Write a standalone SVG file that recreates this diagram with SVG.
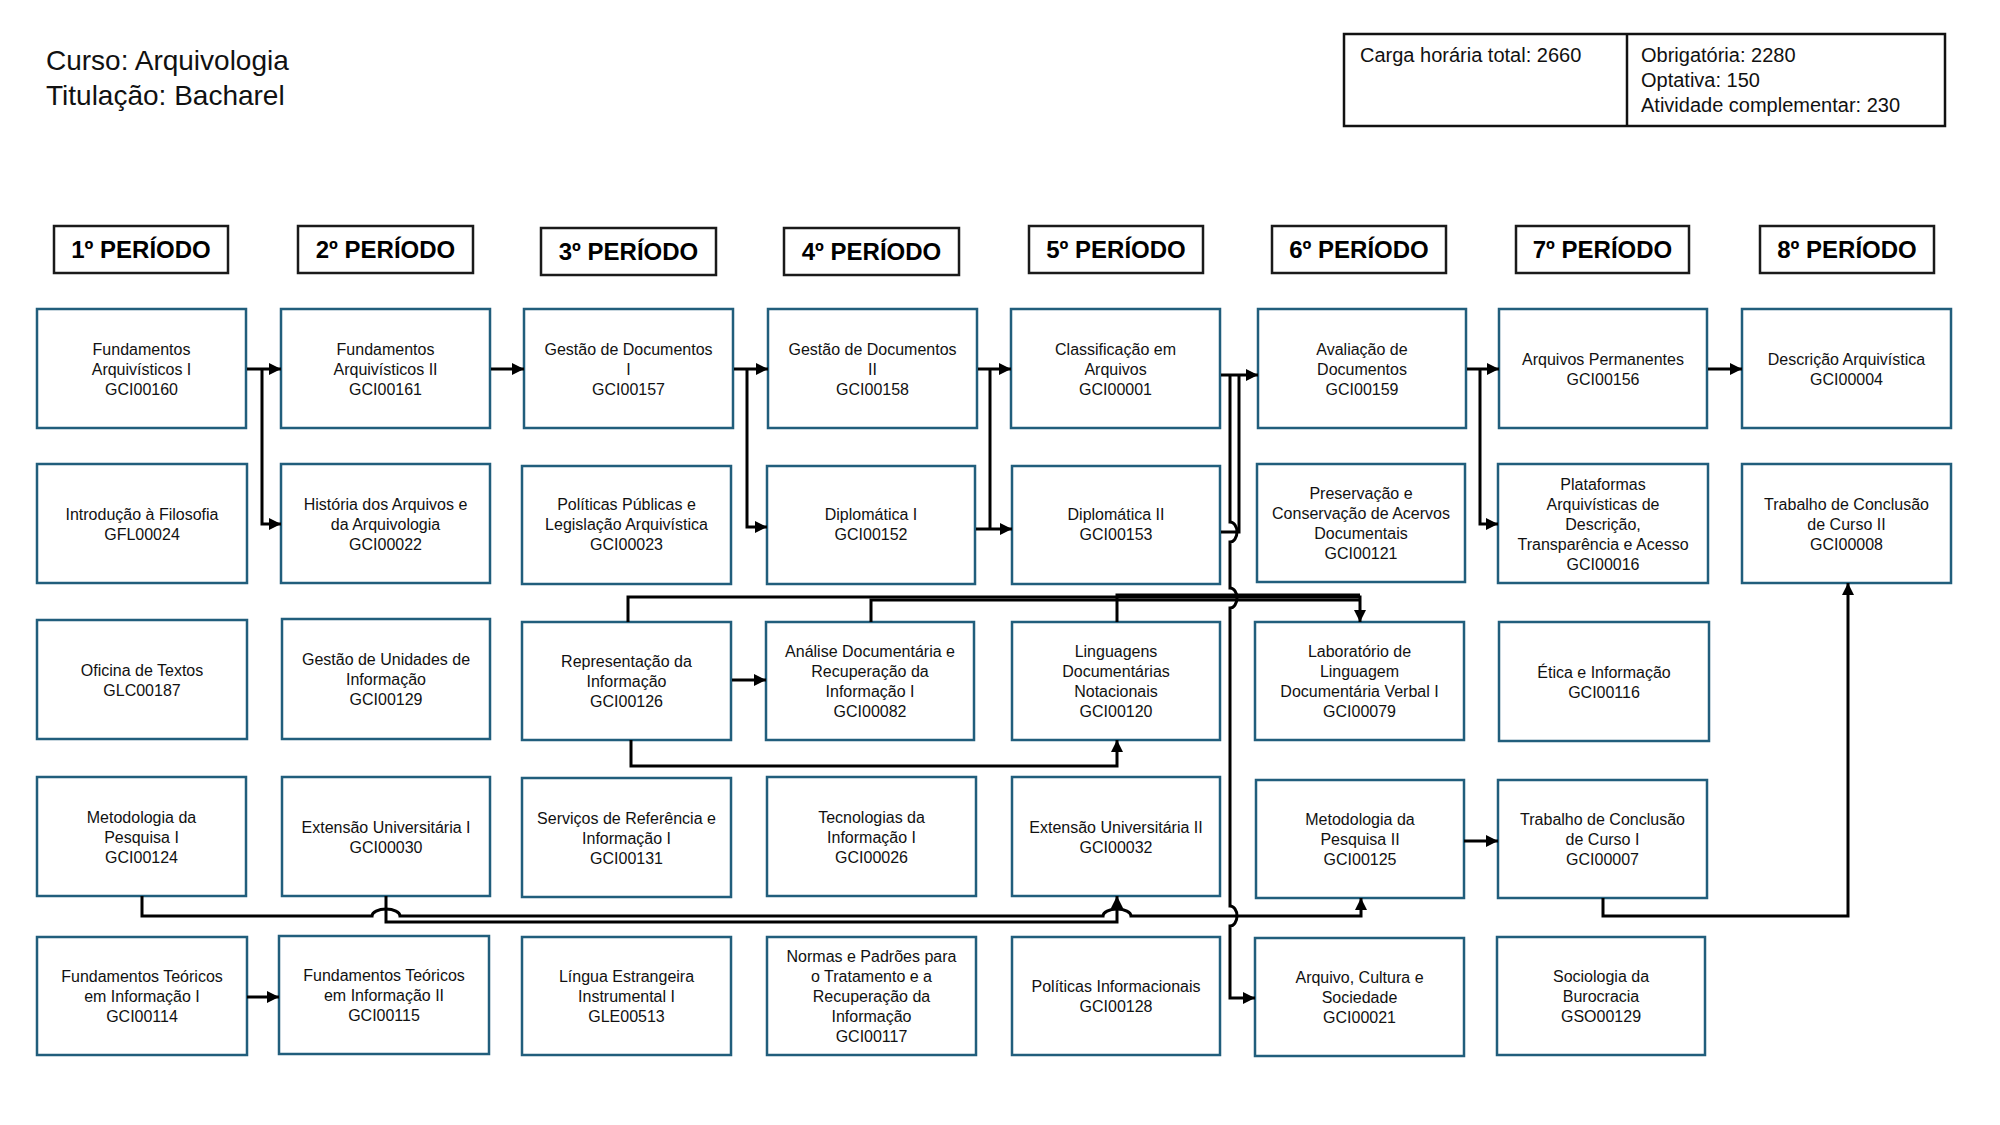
<svg xmlns="http://www.w3.org/2000/svg" width="2000" height="1125" viewBox="0 0 2000 1125">
<defs>
<style>
.n rect{fill:#fff;stroke:#215E7C;stroke-width:2.5}
.n text{font-family:"Liberation Sans",Arial,sans-serif;font-size:16px;fill:#111;text-anchor:middle}
.p rect{fill:#fff;stroke:#1a1a1a;stroke-width:2.5}
.p text{font-family:"Liberation Sans",Arial,sans-serif;font-size:24px;font-weight:bold;fill:#000;text-anchor:middle}
.t{font-family:"Liberation Sans",Arial,sans-serif;fill:#111}
.c path{fill:none;stroke:#000;stroke-width:3}
.c path.a{marker-end:url(#arr)}
</style>
<marker id="arr" markerUnits="userSpaceOnUse" markerWidth="12" markerHeight="12" viewBox="0 0 12 12" refX="12" refY="6" orient="auto">
<path d="M0,0 L12,6 L0,12 z" fill="#000"/>
</marker>
</defs>
<rect width="2000" height="1125" fill="#fff"/>

<g id="title">
<text class="t" x="46" y="70" font-size="28">Curso: Arquivologia</text>
<text class="t" x="46" y="105" font-size="28">Titulação: Bacharel</text>
</g>

<g id="carga">
<rect x="1344" y="34" width="601" height="92" fill="#fff" stroke="#111" stroke-width="2.5"/>
<line x1="1627" y1="34" x2="1627" y2="126" stroke="#111" stroke-width="2.5"/>
<text class="t" x="1360" y="62" font-size="20">Carga horária total: 2660</text>
<text class="t" x="1641" y="62" font-size="20">Obrigatória: 2280</text>
<text class="t" x="1641" y="87" font-size="20">Optativa: 150</text>
<text class="t" x="1641" y="112" font-size="20">Atividade complementar: 230</text>
</g>

<g id="p1" class="p"><rect x="54" y="226" width="174" height="47"/><text x="141" y="258">1º PERÍODO</text></g>
<g id="p2" class="p"><rect x="298" y="226" width="175" height="47"/><text x="385.5" y="258">2º PERÍODO</text></g>
<g id="p3" class="p"><rect x="541" y="228" width="175" height="47"/><text x="628.5" y="260">3º PERÍODO</text></g>
<g id="p4" class="p"><rect x="784" y="228" width="175" height="47"/><text x="871.5" y="260">4º PERÍODO</text></g>
<g id="p5" class="p"><rect x="1029" y="226" width="174" height="47"/><text x="1116" y="258">5º PERÍODO</text></g>
<g id="p6" class="p"><rect x="1272" y="226" width="174" height="47"/><text x="1359" y="258">6º PERÍODO</text></g>
<g id="p7" class="p"><rect x="1516" y="226" width="173" height="47"/><text x="1602.5" y="258">7º PERÍODO</text></g>
<g id="p8" class="p"><rect x="1760" y="226" width="174" height="47"/><text x="1847" y="258">8º PERÍODO</text></g>

<!-- Row 1 -->
<g id="GCI00160" class="n"><rect x="37" y="309" width="209" height="119"/><text x="141.5" y="354.5">Fundamentos<tspan x="141.5" dy="20">Arquivísticos I</tspan><tspan x="141.5" dy="20">GCI00160</tspan></text></g>
<g id="GCI00161" class="n"><rect x="281" y="309" width="209" height="119"/><text x="385.5" y="354.5">Fundamentos<tspan x="385.5" dy="20">Arquivísticos II</tspan><tspan x="385.5" dy="20">GCI00161</tspan></text></g>
<g id="GCI00157" class="n"><rect x="524" y="309" width="209" height="119"/><text x="628.5" y="354.5">Gestão de Documentos<tspan x="628.5" dy="20">I</tspan><tspan x="628.5" dy="20">GCI00157</tspan></text></g>
<g id="GCI00158" class="n"><rect x="768" y="309" width="209" height="119"/><text x="872.5" y="354.5">Gestão de Documentos<tspan x="872.5" dy="20">II</tspan><tspan x="872.5" dy="20">GCI00158</tspan></text></g>
<g id="GCI00001" class="n"><rect x="1011" y="309" width="209" height="119"/><text x="1115.5" y="354.5">Classificação em<tspan x="1115.5" dy="20">Arquivos</tspan><tspan x="1115.5" dy="20">GCI00001</tspan></text></g>
<g id="GCI00159" class="n"><rect x="1258" y="309" width="208" height="119"/><text x="1362" y="354.5">Avaliação de<tspan x="1362" dy="20">Documentos</tspan><tspan x="1362" dy="20">GCI00159</tspan></text></g>
<g id="GCI00156" class="n"><rect x="1499" y="309" width="208" height="119"/><text x="1603" y="364.5">Arquivos Permanentes<tspan x="1603" dy="20">GCI00156</tspan></text></g>
<g id="GCI00004" class="n"><rect x="1742" y="309" width="209" height="119"/><text x="1846.5" y="364.5">Descrição Arquivística<tspan x="1846.5" dy="20">GCI00004</tspan></text></g>

<!-- Row 2 -->
<g id="GFL00024" class="n"><rect x="37" y="464" width="210" height="119"/><text x="142" y="519.5">Introdução à Filosofia<tspan x="142" dy="20">GFL00024</tspan></text></g>
<g id="GCI00022" class="n"><rect x="281" y="464" width="209" height="119"/><text x="385.5" y="509.5">História dos Arquivos e<tspan x="385.5" dy="20">da Arquivologia</tspan><tspan x="385.5" dy="20">GCI00022</tspan></text></g>
<g id="GCI00023" class="n"><rect x="522" y="466" width="209" height="118"/><text x="626.5" y="510">Políticas Públicas e<tspan x="626.5" dy="20">Legislação Arquivística</tspan><tspan x="626.5" dy="20">GCI00023</tspan></text></g>
<g id="GCI00152" class="n"><rect x="767" y="466" width="208" height="118"/><text x="871" y="520">Diplomática I<tspan x="871" dy="20">GCI00152</tspan></text></g>
<g id="GCI00153" class="n"><rect x="1012" y="466" width="208" height="118"/><text x="1116" y="520">Diplomática II<tspan x="1116" dy="20">GCI00153</tspan></text></g>
<g id="GCI00121" class="n"><rect x="1257" y="464" width="208" height="118"/><text x="1361" y="499">Preservação e<tspan x="1361" dy="20">Conservação de Acervos</tspan><tspan x="1361" dy="20">Documentais</tspan><tspan x="1361" dy="20">GCI00121</tspan></text></g>
<g id="GCI00016" class="n"><rect x="1498" y="464" width="210" height="119"/><text x="1603" y="489.5">Plataformas<tspan x="1603" dy="20">Arquivísticas de</tspan><tspan x="1603" dy="20">Descrição,</tspan><tspan x="1603" dy="20">Transparência e Acesso</tspan><tspan x="1603" dy="20">GCI00016</tspan></text></g>
<g id="GCI00008" class="n"><rect x="1742" y="464" width="209" height="119"/><text x="1846.5" y="509.5">Trabalho de Conclusão<tspan x="1846.5" dy="20">de Curso II</tspan><tspan x="1846.5" dy="20">GCI00008</tspan></text></g>

<!-- Row 3 -->
<g id="GLC00187" class="n"><rect x="37" y="620" width="210" height="119"/><text x="142" y="675.5">Oficina de Textos<tspan x="142" dy="20">GLC00187</tspan></text></g>
<g id="GCI00129" class="n"><rect x="282" y="619" width="208" height="120"/><text x="386" y="665">Gestão de Unidades de<tspan x="386" dy="20">Informação</tspan><tspan x="386" dy="20">GCI00129</tspan></text></g>
<g id="GCI00126" class="n"><rect x="522" y="622" width="209" height="118"/><text x="626.5" y="667">Representação da<tspan x="626.5" dy="20">Informação</tspan><tspan x="626.5" dy="20">GCI00126</tspan></text></g>
<g id="GCI00082" class="n"><rect x="766" y="622" width="208" height="118"/><text x="870" y="657">Análise Documentária e<tspan x="870" dy="20">Recuperação da</tspan><tspan x="870" dy="20">Informação I</tspan><tspan x="870" dy="20">GCI00082</tspan></text></g>
<g id="GCI00120" class="n"><rect x="1012" y="622" width="208" height="118"/><text x="1116" y="657">Linguagens<tspan x="1116" dy="20">Documentárias</tspan><tspan x="1116" dy="20">Notacionais</tspan><tspan x="1116" dy="20">GCI00120</tspan></text></g>
<g id="GCI00079" class="n"><rect x="1255" y="622" width="209" height="118"/><text x="1359.5" y="657">Laboratório de<tspan x="1359.5" dy="20">Linguagem</tspan><tspan x="1359.5" dy="20">Documentária Verbal I</tspan><tspan x="1359.5" dy="20">GCI00079</tspan></text></g>
<g id="GCI00116" class="n"><rect x="1499" y="622" width="210" height="119"/><text x="1604" y="677.5">Ética e Informação<tspan x="1604" dy="20">GCI00116</tspan></text></g>

<!-- Row 4 -->
<g id="GCI00124" class="n"><rect x="37" y="777" width="209" height="119"/><text x="141.5" y="822.5">Metodologia da<tspan x="141.5" dy="20">Pesquisa I</tspan><tspan x="141.5" dy="20">GCI00124</tspan></text></g>
<g id="GCI00030" class="n"><rect x="282" y="777" width="208" height="119"/><text x="386" y="832.5">Extensão Universitária I<tspan x="386" dy="20">GCI00030</tspan></text></g>
<g id="GCI00131" class="n"><rect x="522" y="778" width="209" height="119"/><text x="626.5" y="823.5">Serviços de Referência e<tspan x="626.5" dy="20">Informação I</tspan><tspan x="626.5" dy="20">GCI00131</tspan></text></g>
<g id="GCI00026" class="n"><rect x="767" y="777" width="209" height="119"/><text x="871.5" y="822.5">Tecnologias da<tspan x="871.5" dy="20">Informação I</tspan><tspan x="871.5" dy="20">GCI00026</tspan></text></g>
<g id="GCI00032" class="n"><rect x="1012" y="777" width="208" height="119"/><text x="1116" y="832.5">Extensão Universitária II<tspan x="1116" dy="20">GCI00032</tspan></text></g>
<g id="GCI00125" class="n"><rect x="1256" y="780" width="208" height="118"/><text x="1360" y="825">Metodologia da<tspan x="1360" dy="20">Pesquisa II</tspan><tspan x="1360" dy="20">GCI00125</tspan></text></g>
<g id="GCI00007" class="n"><rect x="1498" y="780" width="209" height="118"/><text x="1602.5" y="825">Trabalho de Conclusão<tspan x="1602.5" dy="20">de Curso I</tspan><tspan x="1602.5" dy="20">GCI00007</tspan></text></g>

<!-- Row 5 -->
<g id="GCI00114" class="n"><rect x="37" y="937" width="210" height="118"/><text x="142" y="982">Fundamentos Teóricos<tspan x="142" dy="20">em Informação I</tspan><tspan x="142" dy="20">GCI00114</tspan></text></g>
<g id="GCI00115" class="n"><rect x="279" y="936" width="210" height="118"/><text x="384" y="981">Fundamentos Teóricos<tspan x="384" dy="20">em Informação II</tspan><tspan x="384" dy="20">GCI00115</tspan></text></g>
<g id="GLE00513" class="n"><rect x="522" y="937" width="209" height="118"/><text x="626.5" y="982">Língua Estrangeira<tspan x="626.5" dy="20">Instrumental I</tspan><tspan x="626.5" dy="20">GLE00513</tspan></text></g>
<g id="GCI00117" class="n"><rect x="767" y="937" width="209" height="118"/><text x="871.5" y="962">Normas e Padrões para<tspan x="871.5" dy="20">o Tratamento e a</tspan><tspan x="871.5" dy="20">Recuperação da</tspan><tspan x="871.5" dy="20">Informação</tspan><tspan x="871.5" dy="20">GCI00117</tspan></text></g>
<g id="GCI00128" class="n"><rect x="1012" y="937" width="208" height="118"/><text x="1116" y="992">Políticas Informacionais<tspan x="1116" dy="20">GCI00128</tspan></text></g>
<g id="GCI00021" class="n"><rect x="1255" y="938" width="209" height="118"/><text x="1359.5" y="983">Arquivo, Cultura e<tspan x="1359.5" dy="20">Sociedade</tspan><tspan x="1359.5" dy="20">GCI00021</tspan></text></g>
<g id="GSO00129" class="n"><rect x="1497" y="937" width="208" height="118"/><text x="1601" y="982">Sociologia da<tspan x="1601" dy="20">Burocracia</tspan><tspan x="1601" dy="20">GSO00129</tspan></text></g>

<g id="connectors" class="c">
<path class="a" d="M247,369 H281"/>
<path class="a" d="M262,369 V524 H281"/>
<path class="a" d="M491,369 H524"/>
<path class="a" d="M734,369 H768"/>
<path class="a" d="M747,369 V527 H767"/>
<path class="a" d="M978,369 H1011"/>
<path d="M990,369 V529"/>
<path class="a" d="M976,529 H1012"/>
<path class="a" d="M1221,375 H1258"/>
<path d="M1221,532 H1239 V375"/>
<path class="a" d="M1230,375 V522 A7,10 0 0 1 1230,542 V588 A7,10 0 0 1 1230,608 V906 A7,10 0 0 1 1230,926 V998 H1255"/>
<path class="a" d="M1467,369 H1499"/>
<path class="a" d="M1480,369 V524 H1498"/>
<path class="a" d="M1708,369 H1742"/>
<path class="a" d="M628,622 V597 H1360 V622"/>
<path d="M871,622 V600 H1360"/>
<path d="M1117,622 V595 H1360"/>
<path class="a" d="M732,680 H766"/>
<path class="a" d="M631,740 V766 H1117 V740"/>
<path class="a" d="M142,896 V916 H372 A14,7 0 0 1 400,916 H1103 A14,7 0 0 1 1131,916 H1361 V898"/>
<path class="a" d="M386,896 V922 H1117 V896"/>
<path class="a" d="M1464,841 H1498"/>
<path class="a" d="M1603,898 V916 H1848 V583"/>
<path class="a" d="M247,997 H279"/>
</g>
</svg>
